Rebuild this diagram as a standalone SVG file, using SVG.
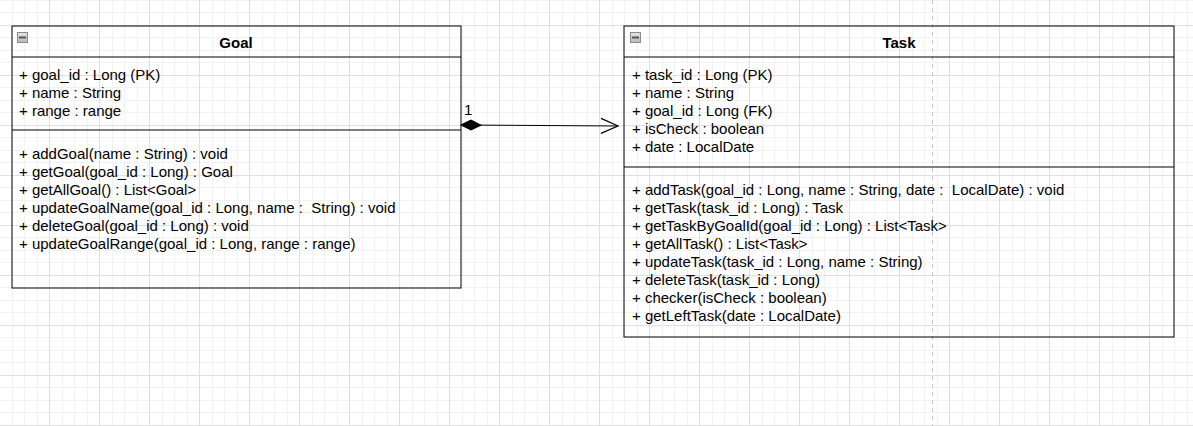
<svg xmlns="http://www.w3.org/2000/svg" width="1193" height="426" viewBox="0 0 1193 426">
  <defs>
    <pattern id="grid" patternUnits="userSpaceOnUse" x="0" y="0" width="50" height="50">
      <rect x="12" y="0" width="1" height="50" fill="#f2f2f2"/>
      <rect x="24" y="0" width="1" height="50" fill="#f2f2f2"/>
      <rect x="37" y="0" width="1" height="50" fill="#f2f2f2"/>
      <rect x="0" y="0" width="50" height="1" fill="#f2f2f2"/>
      <rect x="0" y="12" width="50" height="1" fill="#f2f2f2"/>
      <rect x="0" y="37" width="50" height="1" fill="#f2f2f2"/>
      <rect x="49" y="0" width="1" height="50" fill="#e0e0e0"/>
      <rect x="0" y="25" width="50" height="1" fill="#e0e0e0"/>
    </pattern>
    <linearGradient id="iconGrad" x1="0" y1="0" x2="0" y2="1">
      <stop offset="0" stop-color="#e6e6e6"/>
      <stop offset="1" stop-color="#b8b8b8"/>
    </linearGradient>
    <marker id="diamond" markerUnits="userSpaceOnUse" markerWidth="22" markerHeight="12" refX="0" refY="0" orient="auto" overflow="visible">
      <path d="M0,0 L10,-5 L20,0 L10,5 Z" fill="#000" stroke="#000" stroke-width="1"/>
    </marker>
    <marker id="openArrow" markerUnits="userSpaceOnUse" markerWidth="20" markerHeight="16" refX="0" refY="0" orient="auto" overflow="visible">
      <path d="M-17,-7.5 L0,0 L-17,7.5" fill="none" stroke="#000" stroke-width="1.2"/>
    </marker>
    <g id="collapseIcon">
      <rect x="0.5" y="0.5" width="10" height="10" fill="url(#iconGrad)" stroke="#8a8a8a" stroke-width="1"/>
      <rect x="2" y="4.5" width="7" height="2" fill="#555"/>
    </g>
  </defs>
  <style>
    .box { fill: none; stroke: #000; stroke-width: 1; }
    .title { font-family: "Liberation Sans", Arial, sans-serif; font-size: 15px; font-weight: bold; fill: #000; text-anchor: middle; }
    .txt { font-family: "Liberation Sans", Arial, sans-serif; font-size: 15px; fill: #000; white-space: pre; }
    .lbl { font-family: "Liberation Sans", Arial, sans-serif; font-size: 15px; fill: #000; }
  </style>

  <rect x="0" y="0" width="1193" height="426" fill="#ffffff"/>
  <rect x="0" y="0" width="1193" height="426" fill="url(#grid)"/>
  <line x1="932.5" y1="0" x2="932.5" y2="426" stroke="#c8c8c8" stroke-width="1" stroke-dasharray="4 4"/>

  <g id="goal">
    <rect class="box" x="12" y="26" width="449" height="262"/>
    <line class="box" x1="12" y1="57" x2="461" y2="57"/>
    <line class="box" x1="12" y1="130" x2="461" y2="130"/>
    <use href="#collapseIcon" x="17" y="32"/>
    <text class="title" x="236" y="48">Goal</text>
    <text class="txt" x="19" y="80">+ goal_id : Long (PK)</text>
    <text class="txt" x="19" y="98">+ name : String</text>
    <text class="txt" x="19" y="116">+ range : range</text>
    <text class="txt" x="19" y="159">+ addGoal(name : String) : void</text>
    <text class="txt" x="19" y="177">+ getGoal(goal_id : Long) : Goal</text>
    <text class="txt" x="19" y="195">+ getAllGoal() : List&lt;Goal&gt;</text>
    <text class="txt" x="19" y="213">+ updateGoalName(goal_id : Long, name :  String) : void</text>
    <text class="txt" x="19" y="231">+ deleteGoal(goal_id : Long) : void</text>
    <text class="txt" x="19" y="249">+ updateGoalRange(goal_id : Long, range : range)</text>
  </g>

  <g id="task">
    <rect class="box" x="624" y="26" width="550" height="311"/>
    <line class="box" x1="624" y1="57" x2="1174" y2="57"/>
    <line class="box" x1="624" y1="167" x2="1174" y2="167"/>
    <use href="#collapseIcon" x="630" y="32"/>
    <text class="title" x="899" y="48">Task</text>
    <text class="txt" x="632" y="80">+ task_id : Long (PK)</text>
    <text class="txt" x="632" y="98">+ name : String</text>
    <text class="txt" x="632" y="116">+ goal_id : Long (FK)</text>
    <text class="txt" x="632" y="134">+ isCheck : boolean</text>
    <text class="txt" x="632" y="152">+ date : LocalDate</text>
    <text class="txt" x="632" y="195">+ addTask(goal_id : Long, name : String, date :  LocalDate) : void</text>
    <text class="txt" x="632" y="213">+ getTask(task_id : Long) : Task</text>
    <text class="txt" x="632" y="231">+ getTaskByGoalId(goal_id : Long) : List&lt;Task&gt;</text>
    <text class="txt" x="632" y="249">+ getAllTask() : List&lt;Task&gt;</text>
    <text class="txt" x="632" y="267">+ updateTask(task_id : Long, name : String)</text>
    <text class="txt" x="632" y="285">+ deleteTask(task_id : Long)</text>
    <text class="txt" x="632" y="303">+ checker(isCheck : boolean)</text>
    <text class="txt" x="632" y="321">+ getLeftTask(date : LocalDate)</text>
  </g>

  <g id="connectors">
    <path d="M461,125 L618,126" fill="none" stroke="#000" stroke-width="1" marker-start="url(#diamond)" marker-end="url(#openArrow)"/>
    <text class="lbl" x="464" y="115">1</text>
  </g>
</svg>
